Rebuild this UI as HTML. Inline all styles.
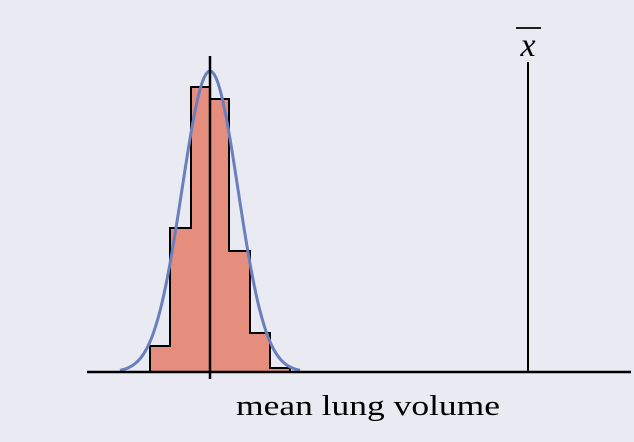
<!DOCTYPE html>
<html><head><style>
body{margin:0;background:#eaeaf2;}
svg{display:block}
</style></head><body>
<svg width="634" height="442" xmlns="http://www.w3.org/2000/svg">
<rect width="634" height="442" fill="#eaeaf2"/>
<path d="M150,372 V346 H170 V228 H191 V87 H210 V99 H229 V251 H250 V333 H270 V368 H290 V372 Z" fill="#e68e7d" stroke="#000" stroke-width="2"/>
<path id="g" fill="none" stroke="#6a7fbd" stroke-width="3" d=""/>
<line x1="87" y1="372" x2="631" y2="372" stroke="#000" stroke-width="2.5"/>
<line x1="210" y1="56" x2="210" y2="379" stroke="#000" stroke-width="2.5"/>
<line x1="528" y1="62" x2="528" y2="372" stroke="#000" stroke-width="2"/>
<line x1="516" y1="28" x2="541" y2="28" stroke="#000" stroke-width="1.8"/>
<text x="528" y="56" font-family="Liberation Serif, serif" font-style="italic" font-size="34" text-anchor="middle">x</text>
<text x="236" y="415" font-family="Liberation Serif, serif" font-size="28" textLength="264" lengthAdjust="spacingAndGlyphs">mean lung volume</text>
<script>
var d="";for(var x=120;x<=300;x+=2){var y=372-301*Math.exp(-Math.pow(x-210,2)/(2*28*28));d+=(x==120?"M":"L")+x+","+y.toFixed(1);}
document.getElementById("g").setAttribute("d",d);
</script>
</svg>
</body></html>
